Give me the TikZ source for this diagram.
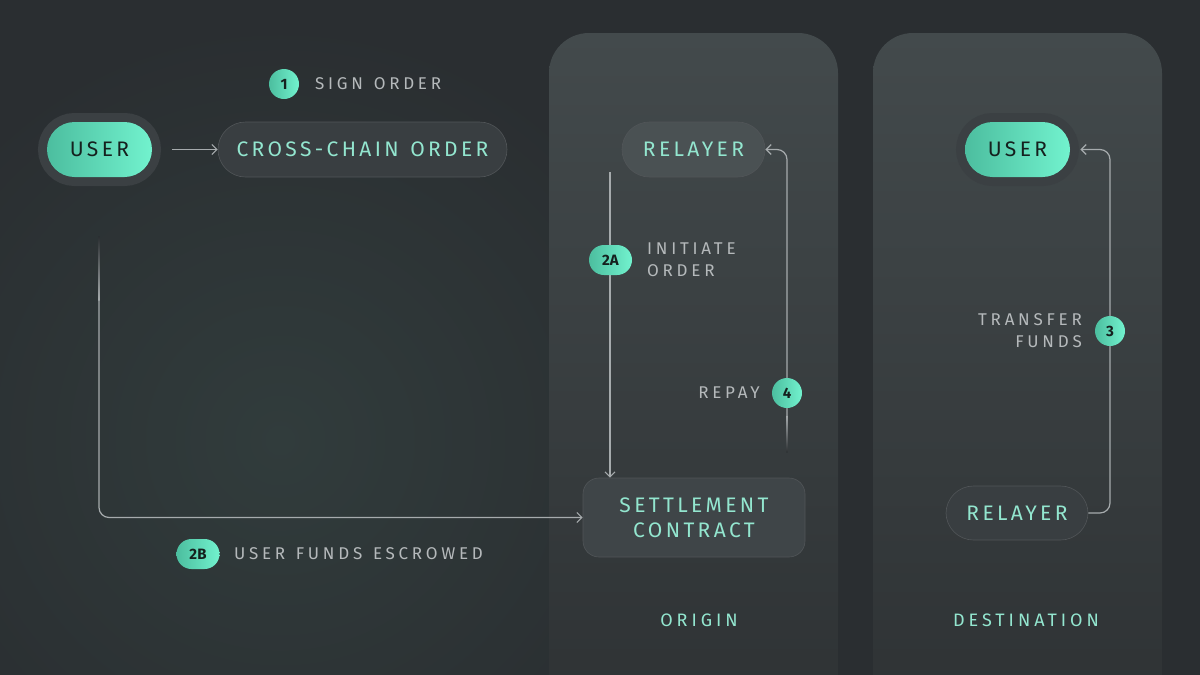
\documentclass[tikz,border=0pt]{standalone}
\usepackage{fontspec}
\usepackage{xcolor}
\usepackage{tikz}
\usetikzlibrary{arrows.meta}
\usetikzlibrary{calc}
\newfontfamily\chipfont[LetterSpace=16,WordSpace=1.3]{Fira Sans}
\newfontfamily\notefont[LetterSpace=22,WordSpace=1.3]{Fira Sans}
\newfontfamily\badgefont{Fira Sans}
\definecolor{bgdark}{HTML}{2A2E31}
\definecolor{bgglow}{HTML}{313C3C}
\definecolor{paneltop}{HTML}{434A4C}
\definecolor{panelbot}{HTML}{2E3234}
\definecolor{chipfill}{HTML}{393E41}
\definecolor{chipring}{HTML}{3B4043}
\definecolor{relayfill}{HTML}{4A5153}
\definecolor{settlefill}{HTML}{3F4548}
\definecolor{mintL}{HTML}{4CBE9F}
\definecolor{mintR}{HTML}{72F2CE}
\definecolor{minttext}{HTML}{93E6CF}
\definecolor{inkdark}{HTML}{15201E}
\definecolor{notegray}{HTML}{B5B9BB}
\definecolor{linegray}{HTML}{A6ABAD}

\begin{document}
\begin{tikzpicture}[x=1pt,y=-1pt,
  chip/.style={rounded corners=27.5pt, minimum height=55pt, inner sep=0pt,
    fill=chipfill, draw=white!12!chipfill, line width=0.6pt, text=minttext,
    font=\chipfont\fontsize{21}{25}\selectfont},
  userchip/.style={chip, draw=none, left color=mintL, right color=mintR, text=inkdark,
    preaction={draw=chipring, line width=18pt}},
  badge/.style={circle, minimum size=30pt, inner sep=0pt, left color=mintL, right color=mintR,
    text=inkdark, font=\badgefont\bfseries\fontsize{15}{15}\selectfont},
  badgepill/.style={badge, rectangle, rounded corners=15pt, minimum width=43pt, minimum height=30pt},
  note/.style={inner sep=0pt, text=notegray, font=\notefont\fontsize{17}{22}\selectfont},
  side/.style={inner sep=0pt, text=minttext, font=\notefont\fontsize{18}{18}\selectfont},
  flow/.style={draw=linegray, line width=1.2pt, rounded corners=10pt,
    -{Straight Barb[length=5pt,width=10pt]}}]
   \useasboundingbox (0,0) rectangle (1200,675);
   %% background and the two chain panels
   \fill [bgdark] (0,0) rectangle (1200,675);
   \shade [inner color=bgglow, outer color=bgdark] (280,440) circle (420);
   \shade [top color=paneltop, bottom color=panelbot, rounded corners=40pt]
      (549,720) -- (549,33) -- (838,33) -- (838,720) -- cycle;
   \shade [top color=paneltop, bottom color=panelbot, rounded corners=40pt]
      (873,720) -- (873,33) -- (1162,33) -- (1162,720) -- cycle;

   \node [userchip, minimum width=105pt] (userA) at (99.5,149.5) {USER};
   \node [chip, minimum width=289pt] (order) at (362.5,149.5) {CROSS-CHAIN ORDER};
   \node [chip, fill=relayfill, minimum width=143pt] (relayerA) at (693.5,149.5) {RELAYER};
   \node [chip, fill=settlefill, rounded corners=16pt, minimum width=222pt, minimum height=79pt,
      align=center] (settle) at (694,517.5) {SETTLEMENT\\CONTRACT};
   \node [userchip, minimum width=105pt] (userB) at (1017.5,149.5) {USER};
   \node [chip, minimum width=142pt, minimum height=54pt] (relayerB) at (1017,513) {RELAYER};

   %% connectors (the loose ends fade out)
   \coordinate (initTop) at (610,172);
   \coordinate (repayFoot) at (787,415);
   \coordinate (escrowTop) at (99,300);
   \coordinate (xferRail) at (1110,331);
   \shade [top color=linegray, bottom color=panelbot] (786.4,415) rectangle (787.6,452);
   \shade [top color=bgdark, bottom color=linegray] (98.4,236) rectangle (99.6,300);
   \draw [flow, shorten <=20pt] (userA.east) -- (order.west);
   \draw [flow] (initTop) -- (initTop |- settle.north);
   \draw [flow] (repayFoot) |- (relayerA.east);
   \draw [flow] (escrowTop) |- (settle.west);
   \draw [flow] (relayerB.east) -| (xferRail) |- ([xshift=10pt]userB.east);

   %% step badges and notes
   \node [badge] (stepOne) at (284,84) {1};
   \node [note, anchor=west] (signNote) at (315,84) {SIGN ORDER};
   \node [badgepill] (stepTwoA) at (610.5,260) {2A};
   \node [note, anchor=west, align=left] (initNote) at (647,260) {INITIATE\\ORDER};
   \node [badgepill] (stepTwoB) at (198,554) {2B};
   \node [note, anchor=west] (escrowNote) at (234,554) {USER FUNDS ESCROWED};
   \node [badge] (stepThree) at (xferRail) {3};
   \node [note, anchor=east, align=right] (xferNote) at (1082,331) {TRANSFER\\FUNDS};
   \node [badge] (stepFour) at (787,393) {4};
   \node [note, anchor=east] (repayNote) at (760,393) {REPAY};

   \node [side] (originLabel) at (699,620) {ORIGIN};
   \node [side] (destLabel) at (1026,620) {DESTINATION};
\end{tikzpicture}
\end{document}
